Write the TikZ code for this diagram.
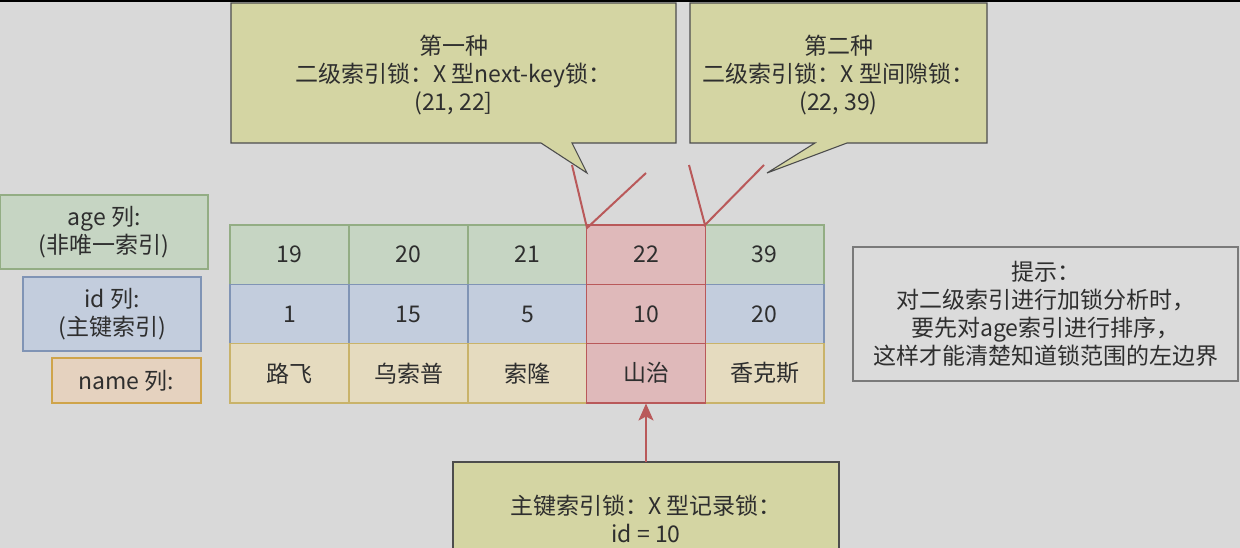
\documentclass[tikz,border=0pt]{standalone}
\usepackage{fontspec}
\setmainfont{Noto Sans CJK SC}
\usetikzlibrary{arrows.meta}
\definecolor{bg}{HTML}{D9D9D9}
\definecolor{txt}{HTML}{2E2E2E}
\definecolor{gfill}{HTML}{C6D5C3}
\definecolor{gline}{HTML}{93AD84}
\definecolor{bfill}{HTML}{C3CDDD}
\definecolor{bline}{HTML}{8094B5}
\definecolor{yfill}{HTML}{E5DBBF}
\definecolor{yline}{HTML}{C9B36A}
\definecolor{rfill}{HTML}{DFB9BA}
\definecolor{rline}{HTML}{B9595A}
\definecolor{cfill}{HTML}{D4D5A3}
\definecolor{cline}{HTML}{4D4D4D}
\definecolor{pfill}{HTML}{E5D2BF}
\definecolor{pline}{HTML}{CFA44A}
\definecolor{hfill}{HTML}{DBDBDB}
\definecolor{hline}{HTML}{7A7A7A}
\begin{document}
\begin{tikzpicture}[x=1pt,y=-1pt,
  every node/.style={text=txt, font=\fontsize{23}{28}\selectfont, align=center, inner sep=0pt},
  cell/.style={draw, line width=1.2pt, minimum width=119pt, minimum height=59.3pt},
  gcell/.style={cell, fill=gfill, draw=gline},
  bcell/.style={cell, fill=bfill, draw=bline},
  ycell/.style={cell, fill=yfill, draw=yline},
  rcell/.style={cell, fill=rfill, draw=rline},
  callout/.style={fill=cfill, draw=cline, line width=1.1pt, line join=miter},
  redline/.style={draw=rline, line width=2pt},
  labelbox/.style={draw, line width=1.2pt}
]
\useasboundingbox (0,0) rectangle (1240,548);
\clip (0,0) rectangle (1240,548);
\fill[bg] (0,0) rectangle (1240,548);
\fill[black] (0,0) rectangle (1240,2.5);

% callouts
\draw[callout] (231,3) -- (676,3) -- (676,143) -- (572,143) -- (587,173) -- (541,143) -- (231,143) -- cycle;
\node (c1) at (453.5,75) {第一种\\二级索引锁：X 型next-key锁：\\(21, 22]};
\draw[callout] (690,3) -- (987,3) -- (987,143) -- (847,143) -- (767,173) -- (815,143) -- (690,143) -- cycle;
\node (c2) at (838.5,75) {第二种\\二级索引锁：X 型间隙锁：\\(22, 39)};

% left labels
\node[labelbox, fill=gfill, draw=gline, minimum width=208pt, minimum height=74pt] (lage) at (104,232) {age 列:\\(非唯一索引)};
\node[labelbox, fill=bfill, draw=bline, minimum width=178pt, minimum height=74pt] (lid) at (112,314) {id 列:\\(主键索引)};
\node[labelbox, fill=pfill, draw=pline, minimum width=149pt, minimum height=45pt] (lname) at (126.5,380.5) {name 列:};

% table
\node[gcell] (a1) at (289.5,254.65) {19};
\node[gcell] (a2) at (408.5,254.65) {20};
\node[gcell] (a3) at (527.5,254.65) {21};
\node[gcell] (a5) at (764.5,254.65) {39};
\node[bcell] (i1) at (289.5,313.95) {1};
\node[bcell] (i2) at (408.5,313.95) {15};
\node[bcell] (i3) at (527.5,313.95) {5};
\node[bcell] (i5) at (764.5,313.95) {20};
\node[ycell] (n1) at (289.5,373.25) {路飞};
\node[ycell] (n2) at (408.5,373.25) {乌索普};
\node[ycell] (n3) at (527.5,373.25) {索隆};
\node[ycell] (n5) at (764.5,373.25) {香克斯};
\node[rcell] (a4) at (646,254.65) {22};
\node[rcell] (i4) at (646,313.95) {10};
\node[rcell] (n4) at (646,373.25) {山治};

% red marker lines
\coordinate (la) at (572,165);
\coordinate (lv) at (587,228);
\coordinate (lb) at (646,173);
\coordinate (ra) at (689,165);
\coordinate (rv) at (705,225);
\coordinate (rb) at (764,165);
\draw[redline] (la) -- (lv) -- (lb);
\draw[redline] (ra) -- (rv) -- (rb);

% hint box
\node[draw=hline, fill=hfill, line width=1.2pt, minimum width=385pt, minimum height=134pt] (hint) at (1045.5,314) {提示：\\对二级索引进行加锁分析时，\\要先对age索引进行排序，\\这样才能清楚知道锁范围的左边界};

% bottom box
\draw[callout] (453,462) rectangle (839,570);
\node (pk) at (646,519) {主键索引锁：X 型记录锁：\\id = 10};
\coordinate (pktop) at (646,462);
\draw[draw=rline, line width=2pt, -{Stealth[length=17pt,width=15pt,inset=4pt]}] (pktop) -- (n4.south);
\end{tikzpicture}
\end{document}
